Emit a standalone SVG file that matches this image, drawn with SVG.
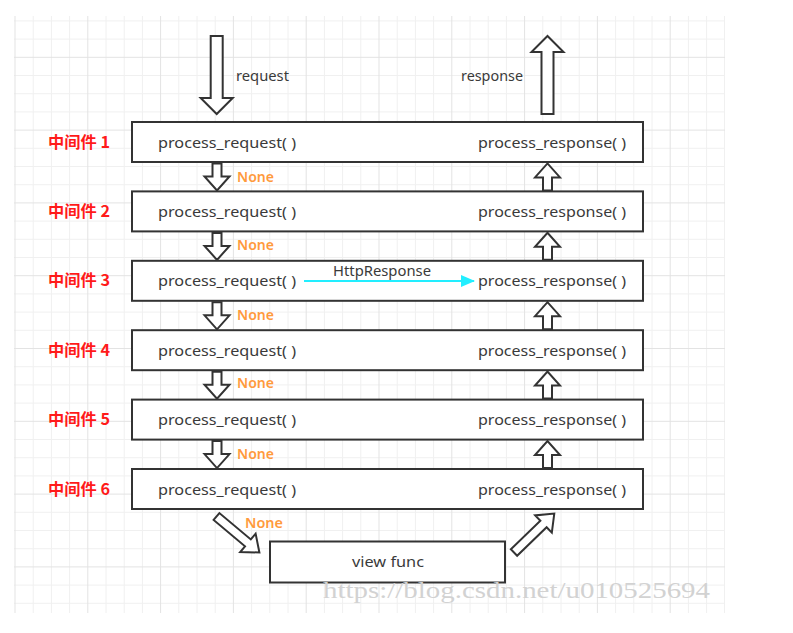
<svg xmlns="http://www.w3.org/2000/svg" width="793" height="633" viewBox="0 0 793 633">
<style>
.minor{stroke:#f0f0f0;stroke-width:1;fill:none}
.major{stroke:#e3e3e3;stroke-width:1;fill:none}
.box{fill:#fff;stroke:#333;stroke-width:2}
.arr{fill:#fff;stroke:#333;stroke-width:2;stroke-linejoin:miter}
.t{font-family:"Noto Sans","Liberation Sans",sans-serif;font-size:15px;fill:#3a3a3a}
.s{font-family:"Noto Sans","Liberation Sans",sans-serif;font-size:14px;fill:#3a3a3a}
.lbl{font-family:"Noto Sans CJK SC","Noto Sans",sans-serif;font-size:16px;font-weight:bold;fill:#ff1a1a}
.none{font-family:"Noto Sans","Liberation Sans",sans-serif;font-size:14px;font-weight:600;fill:#ff9a3c}
.wm{font-family:"Liberation Serif",serif;font-size:24px;fill:#d2d2d2}
</style>
<defs>
<path id="small" d="M-4.5 0H4.5V13H12.5L0 27L-12.5 13H-4.5Z"/>
<path id="big" d="M-6 0H6V62H16L0 78L-16 62H-6Z"/>
<path id="diag" d="M-4.5 0H4.5V41H12L0 56L-12 41H-4.5Z"/>
<marker id="cyanHead" viewBox="0 0 14 12" refX="13" refY="6" markerWidth="14" markerHeight="12" markerUnits="userSpaceOnUse" orient="auto">
<path d="M0 0L14 6L0 12Z" fill="#22eeff"/>
</marker>
</defs>
<g id="grid">
<path class="minor" d="M33.2 16V613M51.4 16V613M69.6 16V613M106 16V613M124.2 16V613M142.4 16V613M178.8 16V613M197 16V613M215.2 16V613M251.6 16V613M269.8 16V613M288 16V613M324.4 16V613M342.6 16V613M360.8 16V613M397.2 16V613M415.4 16V613M433.6 16V613M470 16V613M488.2 16V613M506.4 16V613M542.8 16V613M561 16V613M579.2 16V613M615.6 16V613M633.8 16V613M652 16V613M688.4 16V613M706.6 16V613M724.5 16V613"/>
<path class="minor" d="M14 20.9H725M14 39.1H725M14 75.5H725M14 93.7H725M14 111.9H725M14 148.3H725M14 166.5H725M14 184.7H725M14 221.1H725M14 239.3H725M14 257.5H725M14 293.9H725M14 312.1H725M14 330.3H725M14 366.7H725M14 384.9H725M14 403.1H725M14 439.5H725M14 457.7H725M14 475.9H725M14 512.3H725M14 530.5H725M14 548.7H725M14 585.1H725M14 603.3H725"/>
<path class="major" d="M15 16V613M87.8 16V613M160.6 16V613M233.4 16V613M306.2 16V613M379 16V613M451.8 16V613M524.6 16V613M597.4 16V613M670.2 16V613"/>
<path class="major" d="M14 57.3H725M14 130.1H725M14 202.9H725M14 275.7H725M14 348.5H725M14 421.3H725M14 494.1H725M14 566.9H725"/>
</g>
<g id="connectors">
<use href="#big" class="arr" transform="translate(216.7,36)"/>
<text class="s" x="236" y="81" textLength="53" lengthAdjust="spacingAndGlyphs">request</text>
<use href="#big" class="arr" transform="translate(547.5,114) rotate(180)"/>
<text class="s" x="461" y="81" textLength="62" lengthAdjust="spacingAndGlyphs">response</text>
<use href="#small" class="arr" transform="translate(217,163.5)"/>
<use href="#small" class="arr" transform="translate(217,232.9)"/>
<use href="#small" class="arr" transform="translate(217,302.3)"/>
<use href="#small" class="arr" transform="translate(217,371.7)"/>
<use href="#small" class="arr" transform="translate(217,441.1)"/>
<use href="#small" class="arr" transform="translate(547.5,190.4) rotate(180)"/>
<use href="#small" class="arr" transform="translate(547.5,259.8) rotate(180)"/>
<use href="#small" class="arr" transform="translate(547.5,329.2) rotate(180)"/>
<use href="#small" class="arr" transform="translate(547.5,398.6) rotate(180)"/>
<use href="#small" class="arr" transform="translate(547.5,468) rotate(180)"/>
<text class="none" x="237" y="182" textLength="37" lengthAdjust="spacingAndGlyphs">None</text>
<text class="none" x="237" y="250" textLength="37" lengthAdjust="spacingAndGlyphs">None</text>
<text class="none" x="237" y="320" textLength="37" lengthAdjust="spacingAndGlyphs">None</text>
<text class="none" x="237" y="388" textLength="37" lengthAdjust="spacingAndGlyphs">None</text>
<text class="none" x="237" y="459" textLength="37" lengthAdjust="spacingAndGlyphs">None</text>
<use href="#diag" class="arr" transform="translate(216.5,516.5) rotate(-50)"/>
<text class="none" x="245" y="528" textLength="38" lengthAdjust="spacingAndGlyphs">None</text>
<use href="#diag" class="arr" transform="translate(514,552.5) rotate(-134)"/>
</g>
<g id="mw1">
<text class="lbl" x="48" y="148" textLength="62" lengthAdjust="spacingAndGlyphs">中间件 1</text>
<rect class="box" x="132" y="122" width="511" height="40"/>
<text class="t" x="158" y="147.5" textLength="138" lengthAdjust="spacingAndGlyphs">process_request( )</text>
<text class="t" x="478" y="147.5" textLength="148" lengthAdjust="spacingAndGlyphs">process_response( )</text>
</g>
<g id="mw2">
<text class="lbl" x="48" y="217" textLength="62" lengthAdjust="spacingAndGlyphs">中间件 2</text>
<rect class="box" x="132" y="191.4" width="511" height="40"/>
<text class="t" x="158" y="216.9" textLength="138" lengthAdjust="spacingAndGlyphs">process_request( )</text>
<text class="t" x="478" y="216.9" textLength="148" lengthAdjust="spacingAndGlyphs">process_response( )</text>
</g>
<g id="mw3">
<text class="lbl" x="48" y="286" textLength="62" lengthAdjust="spacingAndGlyphs">中间件 3</text>
<rect class="box" x="132" y="260.8" width="511" height="40"/>
<text class="t" x="158" y="286.3" textLength="138" lengthAdjust="spacingAndGlyphs">process_request( )</text>
<text class="t" x="478" y="286.3" textLength="148" lengthAdjust="spacingAndGlyphs">process_response( )</text>
</g>
<g id="mw4">
<text class="lbl" x="48" y="355.5" textLength="62" lengthAdjust="spacingAndGlyphs">中间件 4</text>
<rect class="box" x="132" y="330.2" width="511" height="40"/>
<text class="t" x="158" y="355.7" textLength="138" lengthAdjust="spacingAndGlyphs">process_request( )</text>
<text class="t" x="478" y="355.7" textLength="148" lengthAdjust="spacingAndGlyphs">process_response( )</text>
</g>
<g id="mw5">
<text class="lbl" x="48" y="425" textLength="62" lengthAdjust="spacingAndGlyphs">中间件 5</text>
<rect class="box" x="132" y="399.6" width="511" height="40"/>
<text class="t" x="158" y="425.1" textLength="138" lengthAdjust="spacingAndGlyphs">process_request( )</text>
<text class="t" x="478" y="425.1" textLength="148" lengthAdjust="spacingAndGlyphs">process_response( )</text>
</g>
<g id="mw6">
<text class="lbl" x="48" y="494.5" textLength="62" lengthAdjust="spacingAndGlyphs">中间件 6</text>
<rect class="box" x="132" y="469" width="511" height="40"/>
<text class="t" x="158" y="494.5" textLength="138" lengthAdjust="spacingAndGlyphs">process_request( )</text>
<text class="t" x="478" y="494.5" textLength="148" lengthAdjust="spacingAndGlyphs">process_response( )</text>
</g>
<g id="httpresponse">
<line x1="304" y1="281" x2="474" y2="281" stroke="#22eeff" stroke-width="2" marker-end="url(#cyanHead)"/>
<text class="s" x="333" y="276" textLength="98" lengthAdjust="spacingAndGlyphs">HttpResponse</text>
</g>
<g id="viewfunc">
<rect class="box" x="270" y="541.5" width="235" height="41"/>
<text class="t" x="352" y="567" textLength="72" lengthAdjust="spacingAndGlyphs">view func</text>
</g>
<text class="wm" x="323" y="598" textLength="387" lengthAdjust="spacingAndGlyphs">https://blog.csdn.net/u010525694</text>
</svg>
